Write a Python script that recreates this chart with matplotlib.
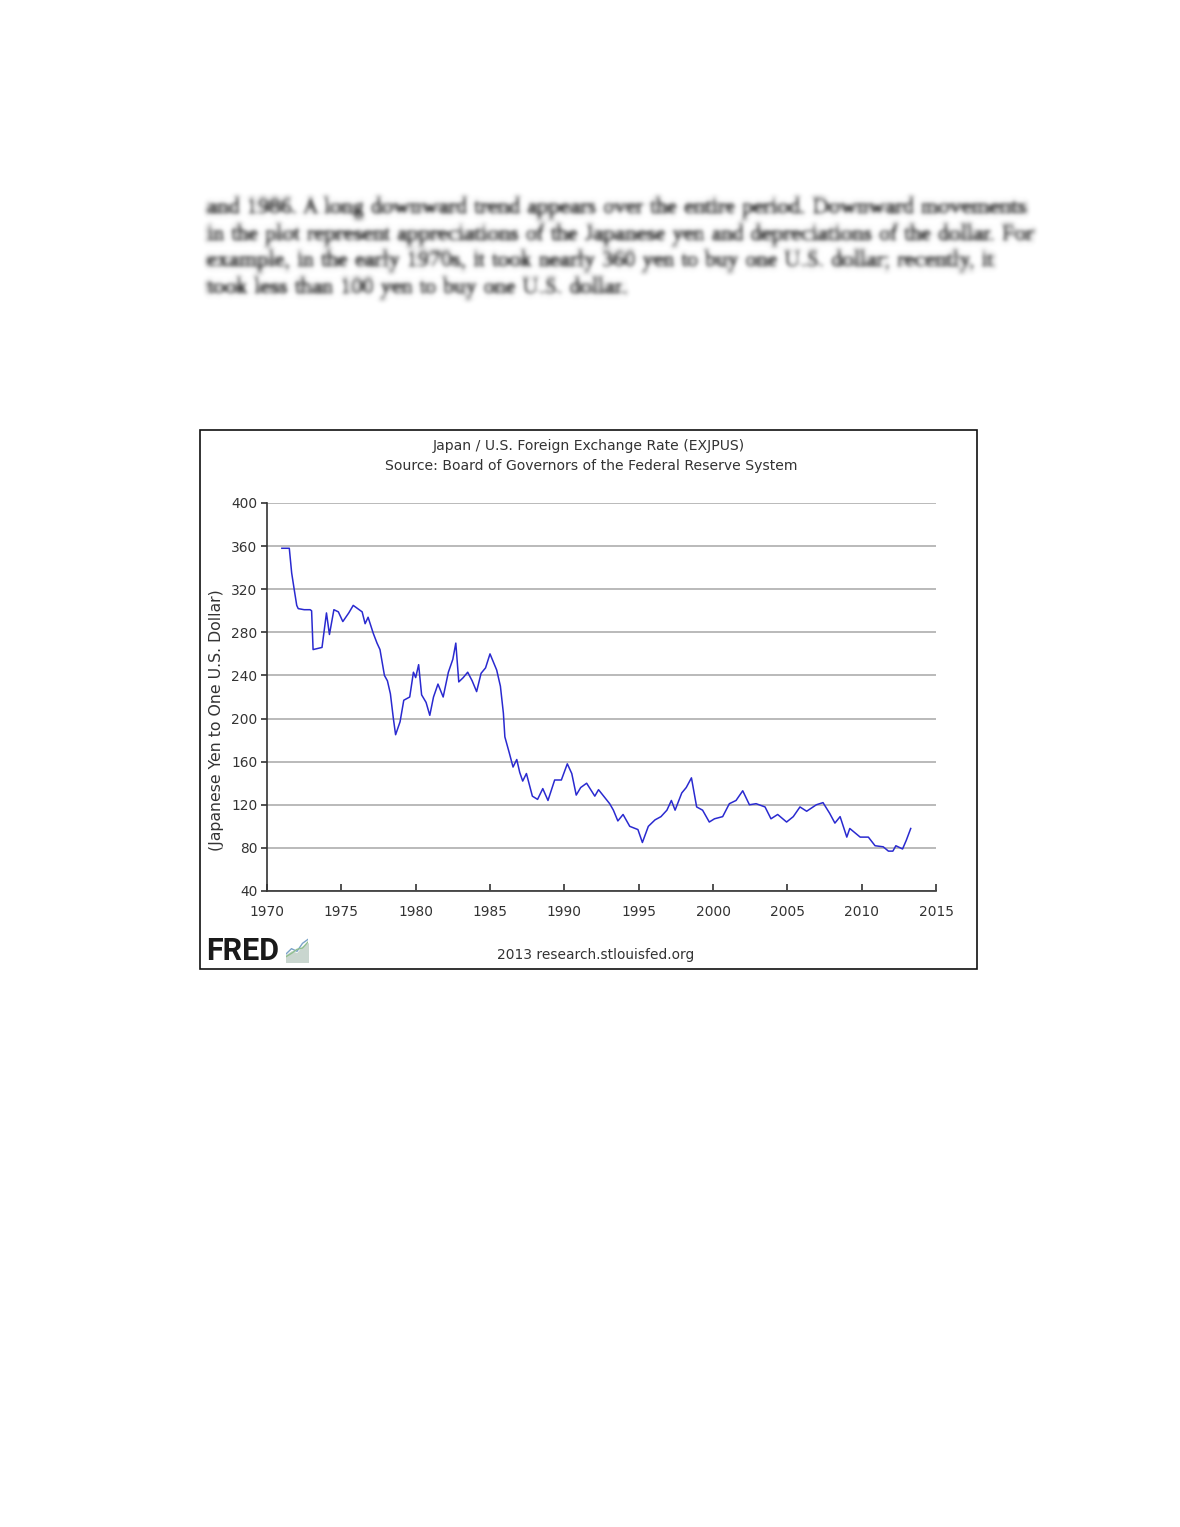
import numpy as np
import matplotlib
matplotlib.use("Agg")
import matplotlib.pyplot as plt
import matplotlib.patheffects as pe
from matplotlib.patches import Rectangle


# =====================================================
# DATA
# =====================================================

years = [
    1971.0, 1971.5, 1971.66, 1971.85, 1972.0, 1972.1, 1972.5, 1972.9, 1973.0,
    1973.1, 1973.4, 1973.7, 1974.0, 1974.2, 1974.5, 1974.8, 1975.1, 1975.5,
    1975.8, 1976.1, 1976.4, 1976.6, 1976.8, 1977.15, 1977.4, 1977.6, 1977.9,
    1978.1, 1978.3, 1978.5, 1978.65, 1978.95, 1979.2, 1979.6, 1979.85, 1980.0,
    1980.2, 1980.4, 1980.7, 1980.95, 1981.2, 1981.5, 1981.85, 1982.2, 1982.5,
    1982.7, 1982.9, 1983.2, 1983.5, 1983.8, 1984.1, 1984.4, 1984.7, 1985.0,
    1985.45, 1985.7, 1985.9, 1986.0, 1986.3, 1986.55, 1986.8, 1987.0, 1987.2,
    1987.45, 1987.85, 1988.2, 1988.55, 1988.9, 1989.35, 1989.8, 1990.2, 1990.5,
    1990.8, 1991.1, 1991.5, 1992.05, 1992.3, 1993.05, 1993.3, 1993.6, 1993.95,
    1994.4, 1994.95, 1995.25, 1995.65, 1996.1, 1996.5, 1996.9, 1997.2, 1997.45,
    1997.9, 1998.2, 1998.55, 1998.9, 1999.3, 1999.75, 2000.1, 2000.65, 2001.1,
    2001.55, 2002.0, 2002.45, 2002.9, 2003.5, 2003.9, 2004.35, 2004.95, 2005.4,
    2005.85, 2006.3, 2006.95, 2007.4, 2007.85, 2008.2, 2008.55, 2009.0, 2009.2,
    2009.9, 2010.45, 2010.9, 2011.45, 2011.8, 2012.1, 2012.3, 2012.75, 2013.0,
    2013.3,
]

yen_per_dollar = [
    358, 358, 335, 318, 305, 302, 301, 301, 300,
    264, 265, 266, 298, 278, 301, 299, 290, 298,
    305, 302, 299, 288, 294, 279, 270, 264, 240,
    235, 223, 200, 185, 197, 217, 220, 243, 238,
    250, 222, 215, 203, 220, 232, 220, 243, 255,
    270, 234, 238, 243, 235, 225, 242, 247, 260,
    245, 230, 205, 183, 168, 155, 162, 150, 142,
    149, 128, 125, 135, 124, 143, 143, 158, 149,
    129, 136, 140, 128, 134, 121, 115, 105, 111,
    100, 97, 85, 100, 106, 109, 115, 124, 115,
    131, 136, 145, 118, 115, 104, 107, 109, 121,
    124, 133, 120, 121, 118, 107, 111, 104, 109,
    118, 114, 120, 122, 112, 103, 109, 90, 98,
    90, 90, 82, 81, 77, 77, 82, 79, 87,
    98,
]

x_ticks = [1970, 1975, 1980, 1985, 1990, 1995, 2000, 2005, 2010, 2015]
y_ticks = [40, 80, 120, 160, 200, 240, 280, 320, 360, 400]

paragraph_lines = [
    "and 1986. A long downward trend appears over the entire period. Downward movements",
    "in the plot represent appreciations of the Japanese yen and depreciations of the dollar. For",
    "example, in the early 1970s, it took nearly 360 yen to buy one U.S. dollar; recently, it",
    "took less than 100 yen to buy one U.S. dollar.",
]


# =====================================================
# BLUR FILTER (for the blurred page text)
# =====================================================

def blur_filter(img, dpi, sigma=2.6):
    pad = int(3 * sigma)
    src = np.pad(img, ((pad, pad), (pad, pad), (0, 0)))
    k = np.exp(-0.5 * (np.arange(-pad, pad + 1) / sigma) ** 2)
    k = k / k.sum()
    tmp = np.zeros_like(src)
    for i, w in enumerate(k):
        tmp += w * np.roll(src, i - pad, axis=0)
    out = np.zeros_like(src)
    for i, w in enumerate(k):
        out += w * np.roll(tmp, i - pad, axis=1)
    return out, -pad, -pad


# =====================================================
# FIGURE
# =====================================================

W, H = 1180, 1527
fig = plt.figure(figsize=(W / 100, H / 100), dpi=100)
fig.patch.set_facecolor("white")

# page paragraph (blurred)
line_y = [208, 235, 261, 288]
for txt, yy in zip(paragraph_lines, line_y):
    t = fig.text(207 / W, 1 - yy / H, txt, family="Liberation Serif",
                 fontsize=16.6, color="#000000",
                 va="center", ha="left",
                 path_effects=[pe.withStroke(linewidth=0.8, foreground="#000000")])
    t.set_agg_filter(blur_filter)

# chart frame
fig.patches.append(Rectangle((200 / W, 1 - 969 / H), 777 / W, 539 / H,
                             transform=fig.transFigure, fill=False,
                             edgecolor="#111111", linewidth=1.2))

ax = fig.add_axes([267 / W, 1 - 891 / H, (936 - 267) / W, (891 - 503) / H])

ax.plot(years, yen_per_dollar, color="#2a2ad0", linewidth=1.1)

ax.set_xlim(1970, 2015)
ax.set_ylim(40, 400)
ax.set_xticks(x_ticks)
ax.set_yticks(y_ticks)

ax.grid(axis="y", color="#b4b4b4", linewidth=1.3)
ax.set_axisbelow(True)

for s in ["top", "right"]:
    ax.spines[s].set_visible(False)
for s in ["left", "bottom"]:
    ax.spines[s].set_color("#333333")
    ax.spines[s].set_linewidth(1.2)

ax.tick_params(axis="x", direction="in", length=5, width=1.2,
               colors="#333333", labelsize=9.9, pad=10)
ax.tick_params(axis="y", direction="out", length=4, width=1.2,
               colors="#333333", labelsize=9.9, pad=3)

ax.set_ylabel("(Japanese Yen to One U.S. Dollar)", fontsize=11.3,
              color="#333333")
ax.yaxis.set_label_coords(-0.064, 0.44)

# titles
fig.text(589 / W, 1 - 446 / H, "Japan / U.S. Foreign Exchange Rate (EXJPUS)",
         ha="center", va="center", fontsize=10.1, color="#333333")
fig.text(591 / W, 1 - 466 / H,
         "Source: Board of Governors of the Federal Reserve System",
         ha="center", va="center", fontsize=10.1, color="#333333")

# footer
fig.text(596 / W, 1 - 955 / H, "2013 research.stlouisfed.org",
         ha="center", va="center", fontsize=9.9, color="#333333")
fig.text(206 / W, 1 - 951 / H, "FRED", ha="left", va="center",
         fontsize=22, fontweight="bold", color="#1a1a1a",
         family=["Roboto", "DejaVu Sans"])

# little FRED chart icon
icon = fig.add_axes([286 / W, 1 - 962 / H, 22 / W, 24 / H])
icon.fill_between([0, 1, 2, 3, 4], [0, 0, 0, 0, 0], [1, 1.6, 1.3, 2.3, 2.8],
                  color="#c9d6cf")
icon.plot([0, 1, 2, 3, 4], [1.2, 2.0, 1.6, 2.8, 3.4], color="#7aa3c8", lw=1)
icon.plot([0, 1, 2, 3, 4], [0.8, 1.3, 1.9, 2.1, 3.0], color="#8fbf8f", lw=1)
icon.set_xlim(0, 4)
icon.set_ylim(0, 3.6)
icon.axis("off")

plt.savefig("out.png", dpi=100)
